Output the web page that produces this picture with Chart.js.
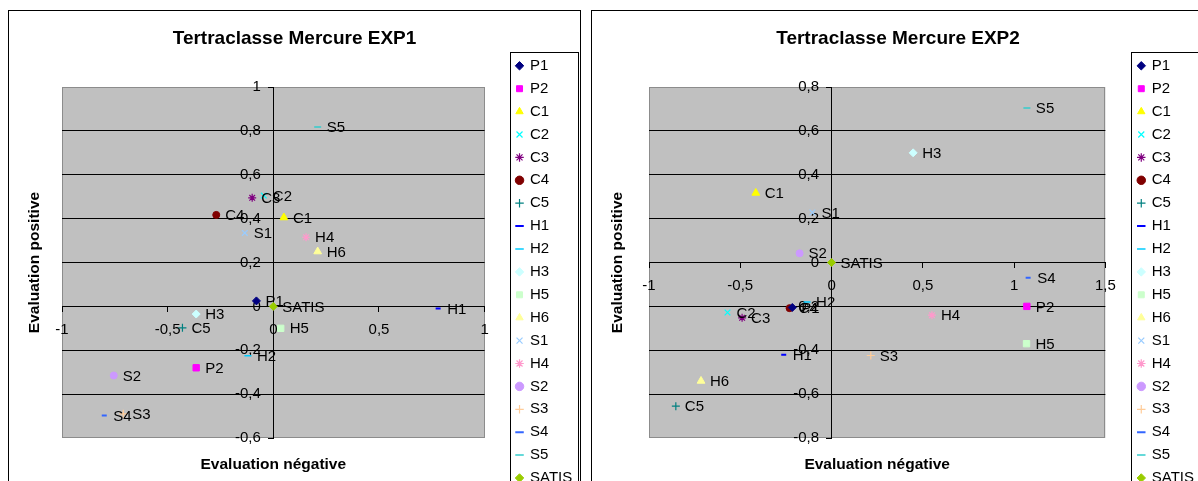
<!DOCTYPE html>
<html>
  <head>
    <meta charset="utf-8">
    <script src="https://cdn.jsdelivr.net/npm/chart.js@4.4.0/dist/chart.umd.min.js"></script>
    <style>
      body { margin: 0; background: #fff; overflow: hidden; }
      .wrap { position: absolute; top: 11px; }
      .frame { position: absolute; top: 10px; height: 600px; border: 1px solid #000; pointer-events: none; }
    </style>
  </head>
  <body>
    <div class="wrap" style="left:9px"><canvas id="exp1" width="571" height="540"></canvas></div>
    <div class="wrap" style="left:592px"><canvas id="exp2" width="612" height="540"></canvas></div>
    <div class="frame" style="left:8px; width:571px"></div>
    <div class="frame" style="left:591px; width:700px"></div>
    <script>
      // INPUT DATA

      const seriesNames = ["P1", "P2", "C1", "C2", "C3", "C4", "C5", "H1", "H2", "H3",
        "H5", "H6", "S1", "H4", "S2", "S3", "S4", "S5", "SATIS"];

      // EXP1 (evaluation negative = x, evaluation positive = y)
      const exp1X = [-0.08, -0.365, 0.05, -0.045, -0.1, -0.27, -0.43, 0.78, -0.12, -0.365,
        0.035, 0.21, -0.135, 0.155, -0.755, -0.71, -0.8, 0.21, 0];
      const exp1Y = [0.025, -0.28, 0.405, 0.505, 0.495, 0.417, -0.098, -0.01, -0.225, -0.035,
        -0.1, 0.25, 0.335, 0.315, -0.315, -0.49, -0.497, 0.818, 0];

      // EXP2
      const exp2X = [-0.215, 1.07, -0.415, -0.57, -0.49, -0.23, -0.853, -0.262, -0.134, 0.447,
        1.068, -0.715, -0.105, 0.55, -0.175, 0.215, 1.077, 1.07, 0];
      const exp2Y = [-0.205, -0.2, 0.317, -0.228, -0.252, -0.208, -0.655, -0.42, -0.18, 0.5,
        -0.37, -0.54, 0.228, -0.24, 0.042, -0.424, -0.07, 0.704, 0];

      const exp1XTicks = [-1, -0.5, 0, 0.5, 1];
      const exp1YTicks = [-0.6, -0.4, -0.2, 0, 0.2, 0.4, 0.6, 0.8, 1];
      const exp2XTicks = [-1, -0.5, 0, 0.5, 1, 1.5];
      const exp2YTicks = [-0.8, -0.6, -0.4, -0.2, 0, 0.2, 0.4, 0.6, 0.8];

      // MARKERS (old excel default cycle)

      const seriesColors = ["#000080", "#FF00FF", "#FFFF00", "#00FFFF", "#800080", "#800000",
        "#008080", "#0000FF", "#00CCFF", "#CCFFFF", "#CCFFCC", "#FFFF99", "#99CCFF", "#FF99CC",
        "#CC99FF", "#FFCC99", "#3366FF", "#33CCCC", "#99CC00"];
      const markerStyles = ["rectRot", "rect", "triangle", "crossRot", "star", "circle", "cross",
        "line", "line", "rectRot", "rect", "triangle", "crossRot", "star", "circle", "cross",
        "line", "line", "rectRot"];
      const markerSizes = [4, 4.5, 4.5, 4, 4, 3.5, 4, 2.5, 3.5, 4, 4.5, 4.5, 4, 4, 3.5, 4, 2.5, 3.5, 4];
      const markerWidths = [1, 1, 1, 1.2, 1.2, 1, 1.2, 2, 1.5, 1, 1, 1, 1.2, 1.2, 1, 1.2, 2, 1.5, 1];

      const FONT = "Arial, 'Liberation Sans', sans-serif";
      Chart.defaults.font.family = FONT;
      Chart.defaults.color = "#000";

      // PLUGINS

      const plotBackground = {
        id: "plotBackground",
        beforeDraw(chart) {
          const { ctx, chartArea: a } = chart;
          ctx.save();
          ctx.fillStyle = "#c0c0c0";
          ctx.fillRect(a.left, a.top, a.width, a.height);
          ctx.strokeStyle = "#8c8c8c";
          ctx.lineWidth = 1;
          ctx.strokeRect(Math.round(a.left) + 0.5, Math.round(a.top) + 0.5, Math.round(a.width) - 1, Math.round(a.height) - 1);
          ctx.restore();
        },
      };

      const pointLabels = {
        id: "pointLabels",
        afterDraw(chart) {
          const ctx = chart.ctx;
          ctx.save();
          ctx.font = "15px " + FONT;
          ctx.fillStyle = "#000";
          ctx.textBaseline = "middle";
          chart.data.datasets.forEach(function (ds, i) {
            chart.getDatasetMeta(i).data.forEach(function (pt) {
              ctx.fillText(ds.label, pt.x + 9, pt.y + 1);
            });
          });
          ctx.restore();
        },
      };

      const legendFrame = {
        id: "legendFrame",
        afterDraw(chart) {
          const ctx = chart.ctx;
          const l = chart.legend;
          ctx.save();
          ctx.strokeStyle = "#000";
          ctx.lineWidth = 1;
          ctx.strokeRect(Math.round(l.left) + 1.5, 41.5, 68, 600);
          ctx.restore();
        },
      };

      function fmt(v) {
        return String(v).replace(".", ",");
      }

      // value labels sit a little left of the vertical axis, as in excel
      function fmtY(v) {
        return fmt(v) + "   ";
      }

      function hideEdges(ticks) {
        return function (ctx) {
          if (!ctx.tick) return "#000";
          const v = ctx.tick.value;
          return v === ticks[0] || v === ticks[ticks.length - 1] ? "rgba(0,0,0,0)" : "#000";
        };
      }

      function makeChart(id, title, xs, ys, xTicks, yTicks, leftGap, rightGap) {
        const datasets = seriesNames.map(function (name, i) {
          return {
            label: name,
            data: [{ x: xs[i], y: ys[i] }],
            xAxisID: "x",
            yAxisID: "y",
            pointStyle: markerStyles[i],
            pointRadius: markerSizes[i],
            pointHoverRadius: markerSizes[i],
            borderWidth: markerWidths[i],
            backgroundColor: seriesColors[i],
            borderColor: seriesColors[i],
          };
        });

        return new Chart(document.getElementById(id), {
          type: "scatter",
          data: { datasets: datasets },
          options: {
            responsive: false,
            animation: false,
            events: [],
            layout: { padding: 0 },
            scales: {
              x: {
                type: "linear",
                position: { y: 0 },
                min: xTicks[0],
                max: xTicks[xTicks.length - 1],
                afterBuildTicks: function (s) {
                  s.ticks = xTicks.map(function (v) { return { value: v }; });
                },
                ticks: { callback: fmt, padding: 9, autoSkip: false, maxRotation: 0, font: { size: 15 }, color: "#000" },
                grid: { drawOnChartArea: false, tickLength: 5, tickColor: "#000" },
                border: { color: "#000" },
              },
              y: {
                type: "linear",
                position: { x: 0 },
                min: yTicks[0],
                max: yTicks[yTicks.length - 1],
                afterBuildTicks: function (s) {
                  s.ticks = yTicks.map(function (v) { return { value: v }; });
                },
                ticks: { callback: fmtY, padding: 6, autoSkip: false, font: { size: 15 }, color: "#000" },
                grid: { color: hideEdges(yTicks), tickLength: 5, tickColor: "#000" },
                border: { color: "#000" },
              },
              xt: {
                type: "linear",
                position: "bottom",
                ticks: { display: false },
                grid: { display: false, drawTicks: false },
                border: { display: false },
                title: {
                  display: true,
                  text: "Evaluation négative",
                  font: { size: 15.5, weight: "bold" },
                  color: "#000",
                  padding: { top: 17.7, bottom: 76.7 },
                },
              },
              yt: {
                type: "linear",
                position: "left",
                ticks: { display: false },
                grid: { display: false, drawTicks: false },
                border: { display: false },
                title: {
                  display: true,
                  text: "Evaluation positive",
                  font: { size: 15.5, weight: "bold" },
                  color: "#000",
                  padding: { top: 16, bottom: leftGap - 1.3 },
                },
              },
              gap: {
                type: "linear",
                position: "right",
                ticks: { display: false },
                grid: { display: false, drawTicks: false },
                border: { display: false },
                afterFit: function (s) { s.width = rightGap; },
              },
            },
            plugins: {
              title: {
                display: true,
                text: title,
                font: { size: 19, weight: "bold" },
                color: "#000",
                padding: { top: 15.9, bottom: 37.3 },
              },
              legend: {
                position: "right",
                align: "start",
                title: { display: true, text: "", font: { size: 12 }, padding: { top: 25, bottom: 0 } },
                labels: {
                  usePointStyle: true,
                  boxWidth: 6,
                  boxHeight: 6,
                  padding: 7.9,
                  font: { size: 15 },
                  color: "#000",
                },
              },
              tooltip: { enabled: false },
            },
          },
          plugins: [plotBackground, pointLabels, legendFrame],
        });
      }

      makeChart("exp1", "Tertraclasse Mercure EXP1", exp1X, exp1Y, exp1XTicks, exp1YTicks, 19.7, 24);
      makeChart("exp2", "Tertraclasse Mercure EXP2", exp2X, exp2Y, exp2XTicks, exp2YTicks, 23.7, 25);
    </script>
  </body>
</html>
